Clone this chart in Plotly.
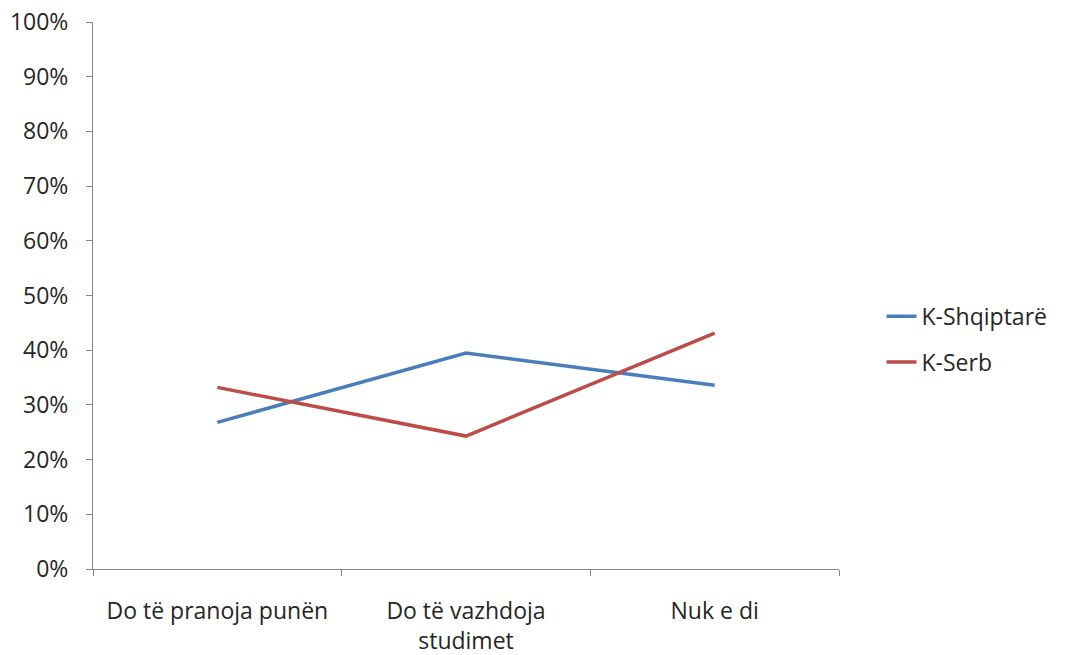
"""
Line chart: K-Shqiptarë vs K-Serb answers.
"""
import plotly.graph_objects as go

CATEGORIES = ['Do të pranoja punën', 'Do të vazhdoja<br>studimet', 'Nuk e di']
K_SHQIPTARE = [0.268, 0.395, 0.336]
K_SERB = [0.332, 0.243, 0.431]

AXIS_COLOR = '#868686'
FONT = dict(family='Open Sans, Noto Sans, sans-serif', size=23, color='#262626')

fig = go.Figure()

fig.add_trace(go.Scatter(
    x=CATEGORIES,
    y=K_SHQIPTARE,
    mode='lines',
    name='K-Shqiptarë',
    line=dict(color='#4A7EBB', width=3.5),
    legendgroup='a',
))
fig.add_trace(go.Scatter(
    x=CATEGORIES,
    y=K_SERB,
    mode='lines',
    name='K-Serb',
    line=dict(color='#BE4B48', width=3.5),
    legendgroup='b',
))

fig.update_layout(
    width=1071,
    height=655,
    margin=dict(l=93, r=232, t=22, b=86),
    paper_bgcolor='white',
    plot_bgcolor='white',
    font=FONT,
    xaxis=dict(
        type='category',
        range=[-0.5, 2.5],
        automargin=False,
        showgrid=False,
        showline=True,
        linecolor=AXIS_COLOR,
        linewidth=1,
        ticks='outside',
        tickson='boundaries',
        ticklen=6,
        tickcolor=AXIS_COLOR,
        ticklabelstandoff=21,
        ticklabeloverflow='allow',
        zeroline=False,
    ),
    yaxis=dict(
        range=[0, 1],
        automargin=False,
        tickvals=[i / 10 for i in range(11)],
        tickformat='.0%',
        showgrid=False,
        showline=True,
        linecolor=AXIS_COLOR,
        linewidth=1,
        ticks='outside',
        ticklen=6,
        tickcolor=AXIS_COLOR,
        ticklabelstandoff=13,
        ticklabeloverflow='allow',
        zeroline=False,
    ),
    legend=dict(
        x=1.057,
        xanchor='left',
        y=0.42,
        yanchor='middle',
        traceorder='grouped',
        tracegroupgap=13,
        font=FONT,
    ),
)

# drop the default 8px body margin so the figure fills the window exactly
fig.write_html(
    "out.html",
    config={'displayModeBar': False},
    post_script="document.body.style.margin='0';",
)
